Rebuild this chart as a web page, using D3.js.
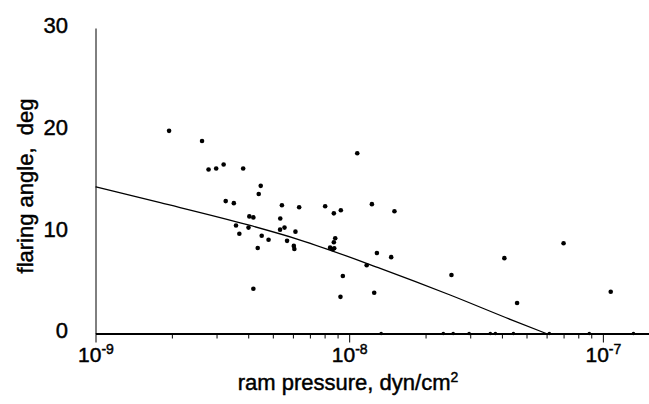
<!DOCTYPE html>
<html>
<head>
<meta charset="utf-8">
<script src="https://cdn.jsdelivr.net/npm/d3@7"></script>
<style>
    body { margin: 0; background: #fff; }
    svg { display: block; font-family: "Liberation Sans", Arial, sans-serif; }
    svg text { stroke: #000; stroke-width: 0.45px; }
</style>
</head>
<body>
<div class="chart-container"></div>
<script>
// ram pressure (dyn/cm^2) and flaring angle (deg) for each galaxy
const pressure = [1.95e-9, 2.63e-9, 2.79e-9, 2.99e-9, 3.20e-9, 3.82e-9, 4.48e-9, 4.40e-9, 3.26e-9, 3.51e-9,
                  5.43e-9, 6.35e-9, 4.04e-9, 4.19e-9, 5.35e-9, 3.58e-9, 4.01e-9, 5.34e-9, 5.56e-9, 6.14e-9,
                  3.69e-9, 4.52e-9, 4.81e-9, 4.36e-9, 5.69e-9, 6.05e-9, 6.08e-9, 4.19e-9, 8.04e-9, 8.70e-9,
                  9.27e-9, 1.076e-8, 1.229e-8, 1.508e-8, 8.81e-9, 8.70e-9, 8.41e-9, 8.61e-9, 8.73e-9, 1.286e-8,
                  1.464e-8, 1.172e-8, 9.44e-9, 9.24e-9, 1.255e-8, 2.53e-8, 4.09e-8, 7.00e-8, 4.59e-8, 1.074e-7];
const angle = [19.9, 18.9, 16.1, 16.2, 16.6, 16.2, 14.5, 13.7, 13.0, 12.8,
               12.6, 12.4, 11.5, 11.4, 11.3, 10.6, 10.4, 10.2, 10.4, 10.0,
               9.8, 9.6, 9.2, 8.4, 9.1, 8.6, 8.3, 4.4, 12.5, 11.8,
               12.1, 17.7, 12.7, 12.0, 9.35, 8.96, 8.43, 8.27, 8.37, 7.9,
               7.5, 6.7, 5.65, 3.6, 4.0, 5.75, 7.4, 8.86, 3.0, 4.1];

// objects with no measurable flaring, sitting on the axis
const zeroPressure = [1.337e-8, 2.35e-8, 2.57e-8, 2.97e-8, 3.60e-8, 3.77e-8, 4.44e-8, 6.15e-8, 8.84e-8, 1.32e-7];

// model curve
const modelPressure = [1e-9, 1.8e-9, 4.0e-9, 6.41e-9, 1.325e-8, 2.5e-8, 4.31e-8, 5.98e-8];
const modelAngle = [14.4, 12.85, 10.66, 9.18, 6.4, 3.78, 1.39, 0];

const yTicks = [0, 10, 20, 30];
const xMajor = [1e-9, 1e-8, 1e-7];
const xMajorExp = ["-9", "-8", "-7"];
const xMinor = [2e-9, 3e-9, 4e-9, 5e-9, 6e-9, 7e-9, 8e-9, 9e-9,
                2e-8, 3e-8, 4e-8, 5e-8, 6e-8, 7e-8, 8e-8, 9e-8];

const renderChart = () => {
    const width = 649;
    const height = 404;

    const x = d3.scaleLog()
                .domain([1e-9, 1.52e-7])
                .range([95.5, 649]);

    const y = d3.scaleLinear()
                .domain([0, 30])
                .range([333.5, 28]);

    const svg = d3.select(".chart-container")
                  .append("svg")
                  .attr("width", width)
                  .attr("height", height);

    // minor ticks
    svg.append("g")
        .attr("class", "x-minor")
        .attr("transform", `translate(0,${y(0)})`)
        .call(d3.axisBottom(x).tickValues(xMinor).tickSize(5).tickFormat(""))
        .call(g => g.select(".domain").remove());

    // major ticks + labels
    const xAxis = svg.append("g")
        .attr("class", "x-axis")
        .attr("transform", `translate(0,${y(0)})`)
        .call(d3.axisBottom(x).tickValues(xMajor).tickSize(9).tickSizeOuter(0).tickFormat(""));

    xAxis.select(".domain").attr("stroke-width", 1.8);

    xAxis.selectAll(".tick")
        .append("text")
        .attr("fill", "#000")
        .attr("y", 28.5)
        .attr("text-anchor", "middle")
        .style("font-size", "21px")
        .each(function(d, i) {
            const t = d3.select(this);
            t.append("tspan").text("10");
            t.append("tspan")
                .attr("dy", -8)
                .style("font-size", "14px")
                .text(xMajorExp[i]);
        });

    const yAxis = svg.append("g")
        .attr("class", "y-axis")
        .attr("transform", `translate(${x(1e-9)},0)`)
        .call(d3.axisLeft(y).tickValues(yTicks).tickSize(0).tickPadding(27.5));

    yAxis.selectAll("text")
        .attr("fill", "#000")
        .attr("dy", "0.2em")
        .style("font-size", "22px");

    // model line
    const line = d3.line()
                   .x(d => x(d[0]))
                   .y(d => y(d[1]))
                   .curve(d3.curveMonotoneX);

    svg.append("path")
        .datum(modelPressure.map((p, i) => [p, modelAngle[i]]))
        .attr("d", line)
        .attr("fill", "none")
        .attr("stroke", "#000")
        .attr("stroke-width", 1.3);

    svg.append("g")
        .attr("class", "points")
        .selectAll("circle")
        .data(pressure.map((p, i) => [p, angle[i]]))
        .enter()
        .append("circle")
        .attr("cx", d => x(d[0]))
        .attr("cy", d => y(d[1]))
        .attr("r", 2.3)
        .attr("fill", "#000");

    svg.append("g")
        .attr("class", "zero-points")
        .selectAll("circle")
        .data(zeroPressure)
        .enter()
        .append("circle")
        .attr("cx", d => x(d))
        .attr("cy", y(0))
        .attr("r", 1.8)
        .attr("fill", "#000");

    svg.append("text")
        .attr("x", 348)
        .attr("y", 390)
        .attr("text-anchor", "middle")
        .style("font-size", "22px")
        .text("ram pressure, dyn/cm")
        .append("tspan")
        .attr("dy", -8)
        .style("font-size", "14px")
        .text("2");

    svg.append("text")
        .attr("transform", "translate(33,186) rotate(-90)")
        .attr("text-anchor", "middle")
        .style("font-size", "22px")
        .style("white-space", "pre")
        .text("flaring angle,  deg");
}

renderChart();
</script>
</body>
</html>
